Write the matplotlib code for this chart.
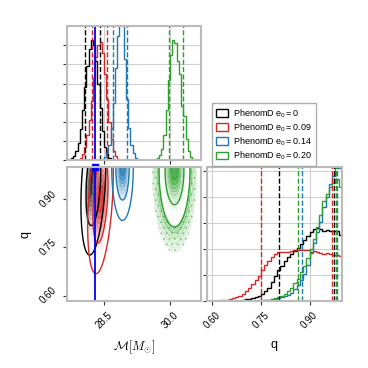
import numpy as np
import matplotlib
matplotlib.use("Agg")
import matplotlib.pyplot as plt
from matplotlib.colors import LinearSegmentedColormap, to_rgba
from matplotlib.patches import Patch

plt.rcParams["font.family"] = ["Liberation Sans", "DejaVu Sans"]
plt.rcParams["mathtext.fontset"] = "custom"
plt.rcParams["mathtext.rm"] = "Liberation Sans"
plt.rcParams["mathtext.it"] = "Liberation Sans"

labels = [r"PhenomD $e_0 = 0$", r"PhenomD $e_0 = 0.09$",
          r"PhenomD $e_0 = 0.14$", r"PhenomD $e_0 = 0.20$"]
colors = ["black", "#d62728", "#1f77b4", "#2ca02c"]

true_mc = 28.30
true_q = 1.0

# chirp mass histograms (bins of 0.05, first edge in mc_start)
mc_width = 0.05
mc_start = [27.75, 27.95, 28.45, 29.65]
mc_hist_black = [0.1, 0.2, 0.45, 0.9, 1.6, 2.6, 3.8, 4.9, 5.8, 6.25, 6.0, 5.2, 4.0, 2.7, 1.5, 0.7, 0.3, 0.1]
mc_hist_red = [0.1, 0.3, 0.7, 1.3, 2.1, 3.1, 4.3, 5.4, 6.0, 6.15, 5.6, 4.5, 3.2, 2.0, 1.1, 0.5, 0.2, 0.07]
mc_hist_blue = [0.05, 0.15, 0.35, 0.8, 1.7, 3.0, 4.8, 6.5, 7.6, 7.2, 5.3, 3.2, 1.7, 0.8, 0.35, 0.12]
mc_hist_green = [0.05, 0.1, 0.25, 0.6, 1.3, 2.6, 4.2, 5.5, 6.3, 6.1, 5.2, 4.5, 2.8, 2.3, 1.1, 0.5, 0.15, 0.05]

# mass ratio histograms, 40 bins from 0.60 to 1.00
q_edges = np.linspace(0.60, 1.00, 41)
q_hist_black = [0, 0, 0, 0, 0, 0, 0, 0.01, 0.02, 0.04, 0.06, 0.08, 0.11, 0.14, 0.2, 0.28,
                0.38, 0.5, 0.75, 0.95, 1.2, 1.35, 1.55, 1.7, 1.82, 1.92, 2.05, 2.2, 2.35, 2.5,
                2.65, 2.75, 2.8, 2.75, 2.7, 2.72, 2.7, 2.7, 2.68, 2.55]
q_hist_red = [0.01, 0.02, 0.03, 0.04, 0.05, 0.07, 0.1, 0.14, 0.2, 0.28, 0.38, 0.5, 0.65, 0.8,
              0.98, 1.2, 1.4, 1.55, 1.7, 1.8, 1.87, 1.88, 1.9, 1.9, 1.93, 1.95, 1.95, 1.96,
              1.95, 1.97, 1.9, 1.92, 1.87, 1.85, 1.82, 1.83, 1.8, 1.78, 1.77, 1.74]
q_hist_blue = [0, 0, 0, 0, 0, 0, 0, 0, 0, 0, 0, 0, 0, 0, 0.01, 0.02, 0.03, 0.05, 0.07, 0.08,
               0.1, 0.14, 0.18, 0.24, 0.32, 0.45, 0.6, 0.8, 1.05, 1.4, 1.85, 2.25, 2.65, 3.05,
               3.6, 4.0, 4.5, 4.8, 5.1, 5.12]
q_hist_green = [0, 0, 0, 0, 0, 0, 0, 0, 0, 0, 0, 0, 0, 0.01, 0.02, 0.03, 0.04, 0.05, 0.07,
                0.12, 0.16, 0.2, 0.28, 0.4, 0.5, 0.7, 0.85, 1.1, 1.35, 1.65, 2.0, 2.4, 2.85,
                3.3, 3.85, 4.1, 4.4, 4.55, 4.7, 4.4]

# quantile lines
mc_quant = [[28.07, 28.40], [28.235, 28.575], [28.71, 29.02], [29.98, 30.30]]
q_quant = [[0.806, 0.976], [0.751, 0.969], [0.878, 0.986], [0.865, 0.981]]

# 2d posterior shape (mean / width / correlation)
mc2d_mean = [28.26, 28.42, 28.92, 30.10]
mc2d_sd = [0.12, 0.125, 0.10, 0.145]
q2d_mean = [0.95, 0.90, 1.00, 0.99]
q2d_sd = [0.095, 0.10, 0.068, 0.073]
rho = [0.3, 0.35, 0.0, 0.0]
levels_frac = [0.68, 0.95]

mc_hists = [mc_hist_black, mc_hist_red, mc_hist_blue, mc_hist_green]
q_hists = [q_hist_black, q_hist_red, q_hist_blue, q_hist_green]

mc_lim = (27.66, 30.70)
q_lim = (0.583, 1.0)

fig = plt.figure(figsize=(3.68, 3.68), dpi=100)
ax_mc = fig.add_axes([0.182, 0.565, 0.364, 0.364])
ax_2d = fig.add_axes([0.182, 0.182, 0.364, 0.364])
ax_q = fig.add_axes([0.5625, 0.182, 0.3665, 0.364])

for ax in (ax_mc, ax_2d, ax_q):
    for s in ax.spines.values():
        s.set_color("#bbbbbb")
        s.set_linewidth(1.5)
    ax.tick_params(direction="out", length=3, width=0.8, labelsize=7, color="#333333")

# top: chirp mass
for i in range(4):
    vals = mc_hists[i]
    edges = mc_start[i] + mc_width * np.arange(len(vals) + 1)
    ax_mc.stairs(vals, edges, color=colors[i], lw=1.0)
    for v in mc_quant[i]:
        ax_mc.axvline(v, color=colors[i], ls="--", lw=1.0)
ax_mc.axvline(true_mc, color="blue", lw=1.3)
ax_mc.set_xlim(mc_lim)
ax_mc.set_ylim(0, 7.0)
ax_mc.set_xticks([28.5, 30.0])
ax_mc.set_yticks(range(7))
ax_mc.set_xticklabels([])
ax_mc.set_yticklabels([])
ax_mc.grid(True, color="#d0d0d0", lw=0.8)
ax_mc.set_axisbelow(True)

# bottom right: q
for i in range(4):
    ax_q.stairs(q_hists[i], q_edges, color=colors[i], lw=1.0)
    for v in q_quant[i]:
        ax_q.axvline(v, color=colors[i], ls="--", lw=1.0)
ax_q.axvline(true_q, color="blue", lw=1.3)
ax_q.set_xlim(q_lim)
ax_q.set_ylim(0, 5.15)
ax_q.set_xticks([0.60, 0.75, 0.90])
ax_q.set_xticklabels(["0.60", "0.75", "0.90"], rotation=45)
ax_q.set_yticks(range(6))
ax_q.set_yticklabels([])
ax_q.grid(True, color="#d0d0d0", lw=0.8)
ax_q.set_axisbelow(True)
ax_q.set_xlabel("q", fontsize=9, labelpad=6)

# bottom left: 2d
mc_grid = np.linspace(27.6, 30.8, 400)
q_grid = np.linspace(0.55, 1.0, 300)
M, Q = np.meshgrid(mc_grid, q_grid)


def density(i):
    x = (M - mc2d_mean[i]) / mc2d_sd[i]
    y = (Q - q2d_mean[i]) / q2d_sd[i]
    r = rho[i]
    return np.exp(-(x * x - 2 * r * x * y + y * y) / (2 * (1 - r * r)))


def mass_levels(H, fracs):
    flat = np.sort(H.ravel())[::-1]
    cum = np.cumsum(flat)
    cum /= cum[-1]
    return [flat[min(np.searchsorted(cum, f), len(flat) - 1)] for f in fracs]


for i in range(4):
    H = density(i)
    t68, t95 = mass_levels(H, levels_frac)
    if i == 3:
        # cloud of samples outside the outer contour
        t_low = mass_levels(H, [0.998])[0]
        cloud = LinearSegmentedColormap.from_list(
            "cloud", [to_rgba(colors[i], 0.08), to_rgba(colors[i], 0.45)])
        ax_2d.contourf(M, Q, H, levels=np.geomspace(t_low, t95, 6), cmap=cloud)
        plt.rcParams["hatch.color"] = to_rgba(colors[i], 0.45)
        plt.rcParams["hatch.linewidth"] = 0.5
        ax_2d.contourf(M, Q, H, levels=[t_low, t95], colors="none", hatches=["..."])
    cmap = LinearSegmentedColormap.from_list(
        "dens%d" % i, [(1, 1, 1, 0), to_rgba(colors[i], 0.9)])
    ax_2d.contourf(M, Q, H, levels=np.linspace(t95, H.max(), 12), cmap=cmap)
    ax_2d.contour(M, Q, H, levels=[t95, t68], colors=colors[i], linewidths=1.0)

ax_2d.axvline(true_mc, color="blue", lw=1.3)
ax_2d.axhline(true_q, color="blue", lw=1.3)
ax_2d.plot(true_mc, true_q, "s", color="blue", ms=4, clip_on=False)
ax_2d.set_xlim(mc_lim)
ax_2d.set_ylim(q_lim)
ax_2d.set_xticks([28.5, 30.0])
ax_2d.set_xticklabels(["28.5", "30.0"], rotation=45)
ax_2d.set_yticks([0.60, 0.75, 0.90])
ax_2d.set_yticklabels(["0.60", "0.75", "0.90"], rotation=45, va="center")
ax_2d.set_xlabel(r"$\mathcal{M}[M_{\odot}]$", fontsize=9, math_fontfamily="cm", labelpad=6)
ax_2d.set_ylabel("q", fontsize=9)

handles = [Patch(facecolor="none", edgecolor=c, lw=1.0, label=l) for c, l in zip(colors, labels)]
leg = fig.legend(handles=handles, loc="upper left", bbox_to_anchor=(0.576, 0.720),
                 borderaxespad=0, fontsize=6.5, fancybox=False, handlelength=1.3,
                 handleheight=0.9, borderpad=0.45, labelspacing=0.18, handletextpad=0.6)
leg.get_frame().set_edgecolor("#999999")

fig.savefig("out.png", dpi=100)
